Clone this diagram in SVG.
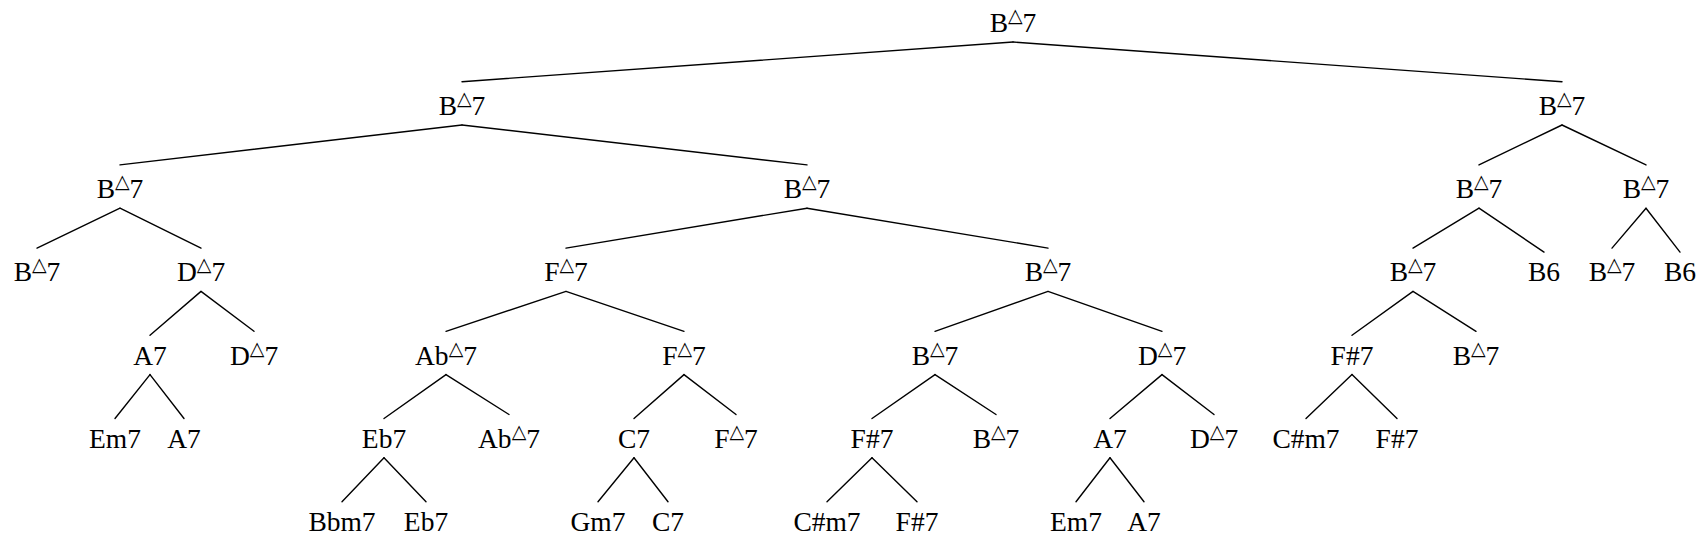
<svg xmlns="http://www.w3.org/2000/svg" width="1706" height="545" viewBox="0 0 1706 545">
<style>
.t{font-family:"Liberation Serif","Times New Roman",serif;font-size:27.5px;fill:#000;text-anchor:middle}
.tri{font-family:"DejaVu Sans",sans-serif;font-size:19px}
#edges line{stroke:#000;stroke-width:1.4;stroke-linecap:round}
</style>
<rect width="1706" height="545" fill="#fff"/>
<g id="edges">
<line x1="1013" y1="42" x2="462" y2="81.7"/>
<line x1="1013" y1="42" x2="1562" y2="81.7"/>
<line x1="462" y1="125" x2="120" y2="164.9"/>
<line x1="462" y1="125" x2="807" y2="164.9"/>
<line x1="1562" y1="125" x2="1479" y2="164.9"/>
<line x1="1562" y1="125" x2="1646" y2="164.9"/>
<line x1="120" y1="208.2" x2="37" y2="248.1"/>
<line x1="120" y1="208.2" x2="201" y2="248.1"/>
<line x1="807" y1="208.2" x2="566" y2="248.1"/>
<line x1="807" y1="208.2" x2="1048" y2="248.1"/>
<line x1="1479" y1="208.2" x2="1413" y2="248.1"/>
<line x1="1479" y1="208.2" x2="1544" y2="252.1"/>
<line x1="1646" y1="208.2" x2="1612" y2="248.1"/>
<line x1="1646" y1="208.2" x2="1680" y2="252.1"/>
<line x1="201" y1="291.4" x2="150" y2="335.3"/>
<line x1="201" y1="291.4" x2="254" y2="331.3"/>
<line x1="566" y1="291.4" x2="446" y2="331.3"/>
<line x1="566" y1="291.4" x2="684" y2="331.3"/>
<line x1="1048" y1="291.4" x2="935" y2="331.3"/>
<line x1="1048" y1="291.4" x2="1162" y2="331.3"/>
<line x1="1413" y1="291.4" x2="1352" y2="335.3"/>
<line x1="1413" y1="291.4" x2="1476" y2="331.3"/>
<line x1="150" y1="374.6" x2="115" y2="418.5"/>
<line x1="150" y1="374.6" x2="184" y2="418.5"/>
<line x1="446" y1="374.6" x2="384" y2="418.5"/>
<line x1="446" y1="374.6" x2="509" y2="414.5"/>
<line x1="684" y1="374.6" x2="634" y2="418.5"/>
<line x1="684" y1="374.6" x2="736" y2="414.5"/>
<line x1="935" y1="374.6" x2="872" y2="418.5"/>
<line x1="935" y1="374.6" x2="996" y2="414.5"/>
<line x1="1162" y1="374.6" x2="1110" y2="418.5"/>
<line x1="1162" y1="374.6" x2="1214" y2="414.5"/>
<line x1="1352" y1="374.6" x2="1306" y2="418.5"/>
<line x1="1352" y1="374.6" x2="1397" y2="418.5"/>
<line x1="384" y1="457.8" x2="342" y2="501.7"/>
<line x1="384" y1="457.8" x2="426" y2="501.7"/>
<line x1="634" y1="457.8" x2="598" y2="501.7"/>
<line x1="634" y1="457.8" x2="668" y2="501.7"/>
<line x1="872" y1="457.8" x2="827" y2="501.7"/>
<line x1="872" y1="457.8" x2="917" y2="501.7"/>
<line x1="1110" y1="457.8" x2="1076" y2="501.7"/>
<line x1="1110" y1="457.8" x2="1144" y2="501.7"/>
</g>
<g id="n1"><text class="t" x="1013" y="31.7">B<tspan class="tri" dy="-10">△</tspan><tspan dy="10">7</tspan></text></g>
<g id="n2"><text class="t" x="462" y="114.9">B<tspan class="tri" dy="-10">△</tspan><tspan dy="10">7</tspan></text></g>
<g id="n3"><text class="t" x="1562" y="114.9">B<tspan class="tri" dy="-10">△</tspan><tspan dy="10">7</tspan></text></g>
<g id="n4"><text class="t" x="120" y="198.1">B<tspan class="tri" dy="-10">△</tspan><tspan dy="10">7</tspan></text></g>
<g id="n5"><text class="t" x="807" y="198.1">B<tspan class="tri" dy="-10">△</tspan><tspan dy="10">7</tspan></text></g>
<g id="n6"><text class="t" x="1479" y="198.1">B<tspan class="tri" dy="-10">△</tspan><tspan dy="10">7</tspan></text></g>
<g id="n7"><text class="t" x="1646" y="198.1">B<tspan class="tri" dy="-10">△</tspan><tspan dy="10">7</tspan></text></g>
<g id="n8"><text class="t" x="37" y="281.3">B<tspan class="tri" dy="-10">△</tspan><tspan dy="10">7</tspan></text></g>
<g id="n9"><text class="t" x="201" y="281.3">D<tspan class="tri" dy="-10">△</tspan><tspan dy="10">7</tspan></text></g>
<g id="n10"><text class="t" x="566" y="281.3">F<tspan class="tri" dy="-10">△</tspan><tspan dy="10">7</tspan></text></g>
<g id="n11"><text class="t" x="1048" y="281.3">B<tspan class="tri" dy="-10">△</tspan><tspan dy="10">7</tspan></text></g>
<g id="n12"><text class="t" x="1413" y="281.3">B<tspan class="tri" dy="-10">△</tspan><tspan dy="10">7</tspan></text></g>
<g id="n13"><text class="t" x="1544" y="281.3">B6</text></g>
<g id="n14"><text class="t" x="1612" y="281.3">B<tspan class="tri" dy="-10">△</tspan><tspan dy="10">7</tspan></text></g>
<g id="n15"><text class="t" x="1680" y="281.3">B6</text></g>
<g id="n16"><text class="t" x="150" y="364.5">A7</text></g>
<g id="n17"><text class="t" x="254" y="364.5">D<tspan class="tri" dy="-10">△</tspan><tspan dy="10">7</tspan></text></g>
<g id="n18"><text class="t" x="446" y="364.5">Ab<tspan class="tri" dy="-10">△</tspan><tspan dy="10">7</tspan></text></g>
<g id="n19"><text class="t" x="684" y="364.5">F<tspan class="tri" dy="-10">△</tspan><tspan dy="10">7</tspan></text></g>
<g id="n20"><text class="t" x="935" y="364.5">B<tspan class="tri" dy="-10">△</tspan><tspan dy="10">7</tspan></text></g>
<g id="n21"><text class="t" x="1162" y="364.5">D<tspan class="tri" dy="-10">△</tspan><tspan dy="10">7</tspan></text></g>
<g id="n22"><text class="t" x="1352" y="364.5">F#7</text></g>
<g id="n23"><text class="t" x="1476" y="364.5">B<tspan class="tri" dy="-10">△</tspan><tspan dy="10">7</tspan></text></g>
<g id="n24"><text class="t" x="115" y="447.7">Em7</text></g>
<g id="n25"><text class="t" x="184" y="447.7">A7</text></g>
<g id="n26"><text class="t" x="384" y="447.7">Eb7</text></g>
<g id="n27"><text class="t" x="509" y="447.7">Ab<tspan class="tri" dy="-10">△</tspan><tspan dy="10">7</tspan></text></g>
<g id="n28"><text class="t" x="634" y="447.7">C7</text></g>
<g id="n29"><text class="t" x="736" y="447.7">F<tspan class="tri" dy="-10">△</tspan><tspan dy="10">7</tspan></text></g>
<g id="n30"><text class="t" x="872" y="447.7">F#7</text></g>
<g id="n31"><text class="t" x="996" y="447.7">B<tspan class="tri" dy="-10">△</tspan><tspan dy="10">7</tspan></text></g>
<g id="n32"><text class="t" x="1110" y="447.7">A7</text></g>
<g id="n33"><text class="t" x="1214" y="447.7">D<tspan class="tri" dy="-10">△</tspan><tspan dy="10">7</tspan></text></g>
<g id="n34"><text class="t" x="1306" y="447.7">C#m7</text></g>
<g id="n35"><text class="t" x="1397" y="447.7">F#7</text></g>
<g id="n36"><text class="t" x="342" y="530.9">Bbm7</text></g>
<g id="n37"><text class="t" x="426" y="530.9">Eb7</text></g>
<g id="n38"><text class="t" x="598" y="530.9">Gm7</text></g>
<g id="n39"><text class="t" x="668" y="530.9">C7</text></g>
<g id="n40"><text class="t" x="827" y="530.9">C#m7</text></g>
<g id="n41"><text class="t" x="917" y="530.9">F#7</text></g>
<g id="n42"><text class="t" x="1076" y="530.9">Em7</text></g>
<g id="n43"><text class="t" x="1144" y="530.9">A7</text></g>
</svg>
